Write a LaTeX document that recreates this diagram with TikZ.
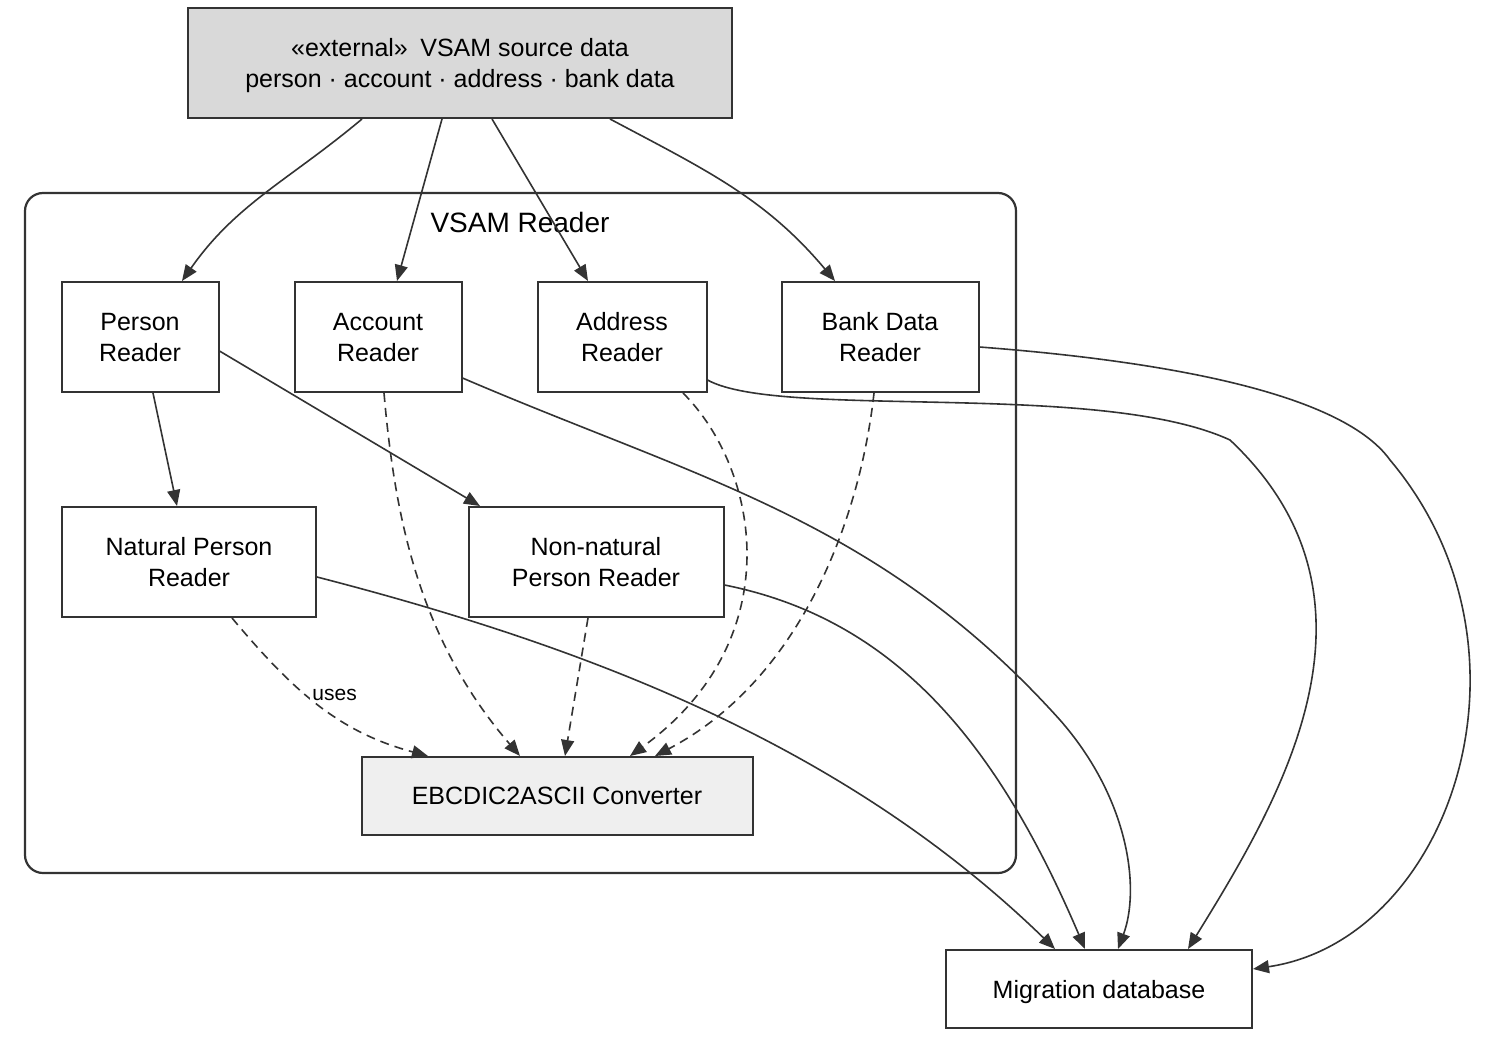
\documentclass[tikz,border=0pt]{standalone}
\usepackage{fontspec}
\setmainfont{Liberation Sans}
\usetikzlibrary{arrows.meta}
\definecolor{ink}{HTML}{333333}
\definecolor{srcfill}{HTML}{D9D9D9}
\definecolor{convfill}{HTML}{EFEFEF}
\tikzset{
  box/.style={draw=ink, line width=1pt, align=center, font=\fontsize{12.5}{15.5}\selectfont, inner sep=0pt, text depth=-2pt},
  flow/.style={draw=ink, line width=0.8pt, -{Stealth[length=8pt,width=6.5pt,inset=0pt]}},
  use/.style={flow, dash pattern=on 4.5pt off 3pt},
}
\begin{document}
\begin{tikzpicture}[x=0.5pt, y=-0.5pt]
  \useasboundingbox (0,0) rectangle (1488,1038);
  % cluster
  \draw[ink, line width=1.1pt, rounded corners=9pt] (25,193) rectangle (1016,873);
  \node[font=\fontsize{14}{16}\selectfont] (cl) at (520,222) {VSAM Reader};

  \node[box, fill=srcfill, minimum width=272pt, minimum height=55pt] (src) at (460,63) {«external»\enspace VSAM source data\\person · account · address · bank data};
  \node[box, minimum width=78.5pt, minimum height=55pt] (pr) at (140,337) {Person\\Reader};
  \node[box, minimum width=83.5pt, minimum height=55pt] (ar) at (378,337) {Account\\Reader};
  \node[box, minimum width=84.5pt, minimum height=55pt] (dr) at (622,337) {Address\\Reader};
  \node[box, minimum width=98.5pt, minimum height=55pt] (br) at (880,337) {Bank Data\\Reader};
  \node[box, minimum width=127pt, minimum height=55pt] (np) at (189,562) {Natural Person\\Reader};
  \node[box, minimum width=127.5pt, minimum height=55pt] (nn) at (596,562) {Non-natural\\Person Reader};
  \node[box, fill=convfill, minimum width=195.5pt, minimum height=39pt] (ec) at (557,796) {EBCDIC2ASCII Converter};
  \node[box, minimum width=153pt, minimum height=39pt] (db) at (1099,989) {Migration database};

  % source to readers
  \draw[flow] ([xshift=-49pt]src.south) to[out=-140,in=55] ([xshift=21pt]pr.north);
  \draw[flow] ([xshift=-9pt]src.south) -- ([xshift=9.5pt]ar.north);
  \draw[flow] ([xshift=16pt]src.south) -- ([xshift=-17pt]dr.north);
  \draw[flow] ([xshift=75pt]src.south) to[out=-28,in=130] ([xshift=-22.5pt]br.north);
  % person split
  \draw[flow] ([xshift=6.5pt]pr.south) -- ([xshift=-6pt]np.north);
  \draw[flow] ([yshift=-7pt]pr.east) -- ([xshift=-58pt]nn.north);
  % uses converter
  \draw[use] ([xshift=21.5pt]np.south) to[out=-50,in=165] node[pos=0.5, fill=white, inner sep=1pt, xshift=8pt, yshift=5pt, font=\fontsize{10.5}{13}\selectfont] {uses} ([xshift=-64.5pt]ec.north);
  \draw[use] ([xshift=3pt]ar.south) .. controls (395,520) and (420,640) .. ([xshift=-18.5pt]ec.north);
  \draw[use] ([xshift=-4pt]nn.south) -- ([xshift=4pt]ec.north);
  \draw[use] ([xshift=30.5pt]dr.south) .. controls (760,470) and (790,640) .. ([xshift=36.5pt]ec.north);
  \draw[use] ([xshift=-3pt]br.south) .. controls (860,520) and (800,680) .. ([xshift=49pt]ec.north);
  % to database
  \draw[flow] ([yshift=-7.5pt]np.east) .. controls (600,650) and (850,750) .. ([xshift=-22pt]db.north);
  \draw[flow] ([yshift=-11.5pt]nn.east) .. controls (900,620) and (1000,750) .. ([xshift=-7pt]db.north);
  \draw[flow] ([yshift=-20.5pt]ar.east) .. controls (700,480) and (880,520) .. (1060,720) .. controls (1130,800) and (1140,890) .. ([xshift=9.5pt]db.north);
  \draw[flow] ([yshift=-21.5pt]dr.east) .. controls (780,420) and (1100,380) .. (1230,440) .. controls (1400,600) and (1280,800) .. ([xshift=44.5pt]db.north);
  \draw[flow] ([yshift=-5pt]br.east) .. controls (1150,360) and (1340,390) .. (1390,460) .. controls (1550,650) and (1450,940) .. ([yshift=-10pt]db.north east);
\end{tikzpicture}
\end{document}
